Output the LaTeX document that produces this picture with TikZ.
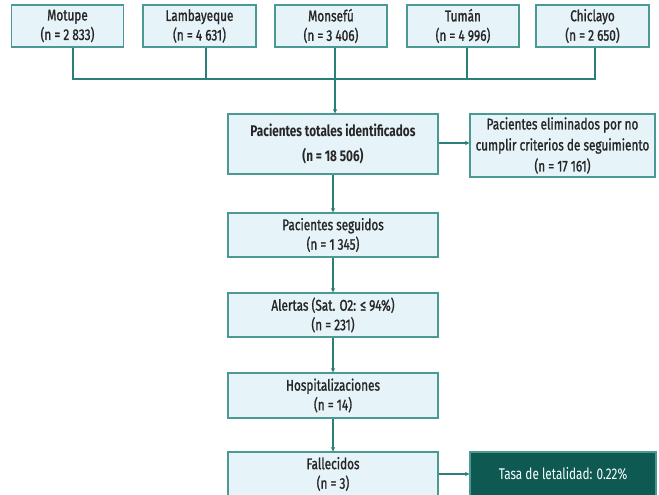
\documentclass[tikz,border=0pt]{standalone}
\usepackage{fontspec}
\setmainfont{Fira Sans}[FakeStretch=0.76]
\newfontfamily\medfont{Fira Sans}[FakeStretch=0.76,FakeBold=1.2]
\newfontfamily\boldfont{Fira Sans Bold}[FakeStretch=0.76]
\usetikzlibrary{arrows.meta,calc}
\definecolor{boxfill}{HTML}{E6F4F9}
\definecolor{boxline}{HTML}{4A9A93}
\definecolor{conn}{HTML}{2A7F78}
\definecolor{darkbox}{HTML}{0E5A53}
\begin{document}
\begin{tikzpicture}[x=1pt,y=1pt,
  box/.style={draw=boxline,fill=boxfill,line width=1.1pt,align=center,inner sep=0pt,
    font=\medfont\fontsize{15.5}{19.5}\selectfont,text=black!85},
  darkstyle/.style={draw=boxline,fill=darkbox,line width=1.1pt,align=center,inner sep=0pt,
    font=\fontsize{15.5}{19.5}\selectfont,text=white},
  link/.style={draw=conn,line width=1.4pt},
  arrowlink/.style={link,-{Stealth[length=4.5pt,width=4.5pt]}}]
\useasboundingbox (0,0) rectangle (659,-495);
% top row
\node[box,minimum width=112pt,minimum height=42pt] (m1) at (67.5,-26) {Motupe\\(n = 2 833)};
\node[box,minimum width=113pt,minimum height=42pt] (m2) at (199.5,-26) {Lambayeque\\(n = 4 631)};
\node[box,minimum width=112pt,minimum height=42pt] (m3) at (331,-26) {Monsefú\\(n = 3 406)};
\node[box,minimum width=112pt,minimum height=42pt] (m4) at (463,-26) {Tumán\\(n = 4 996)};
\node[box,minimum width=113pt,minimum height=42pt] (m5) at (592.5,-26) {Chiclayo\\(n = 2 650)};
% main column
\node[box,minimum width=210pt,minimum height=60pt,font=\boldfont\fontsize{15.5}{25}\selectfont] (tot) at (333,-144) {Pacientes totales identificados\\(n = 18 506)};
\node[box,minimum width=185pt,minimum height=63pt,font=\medfont\fontsize{15.5}{21}\selectfont] (elim) at (562.5,-145.5) {Pacientes eliminados por no\\cumplir criterios de seguimiento\\(n = 17 161)};
\node[box,minimum width=210pt,minimum height=44pt] (seg) at (333,-235) {Pacientes seguidos\\(n = 1 345)};
\node[box,minimum width=210pt,minimum height=44pt] (alert) at (333,-315) {Alertas (Sat. O2: ≤ 94\%)\\(n = 231)};
\node[box,minimum width=210pt,minimum height=45pt] (hosp) at (333,-395.5) {Hospitalizaciones\\(n = 14)};
\node[box,minimum width=210pt,minimum height=44pt] (fall) at (333,-474) {Fallecidos\\(n = 3)};
\node[darkstyle,minimum width=186pt,minimum height=44pt] (tasa) at (563,-474) {Tasa de letalidad: 0.22\%};
% collector
\coordinate (hl) at (73,-79);
\coordinate (hr) at (595,-79);
\coordinate (hm) at (335,-79);
\draw[link] ([xshift=5.5pt]m1.south) -- ([xshift=5.5pt]m1.south |- hl) -- (hr) -- ([xshift=2.5pt]m5.south);
\draw[link] ([xshift=6.5pt]m2.south) -- ([xshift=6.5pt]m2.south |- hl);
\draw[link] ([xshift=4pt]m3.south) -- ([xshift=4pt]m3.south |- hl);
\draw[link] ([xshift=4pt]m4.south) -- ([xshift=4pt]m4.south |- hl);
\draw[arrowlink] (hm) -- (hm |- tot.north);
% flow
\draw[arrowlink] (tot.east |- 0,-143) -- (elim.west |- 0,-143);
\draw[arrowlink] (tot.south) -- (seg.north);
\draw[arrowlink] (seg.south) -- (alert.north);
\draw[arrowlink] (alert.south) -- (hosp.north);
\draw[arrowlink] (hosp.south) -- (fall.north);
\draw[arrowlink] (fall.east) -- (tasa.west);
\end{tikzpicture}
\end{document}
